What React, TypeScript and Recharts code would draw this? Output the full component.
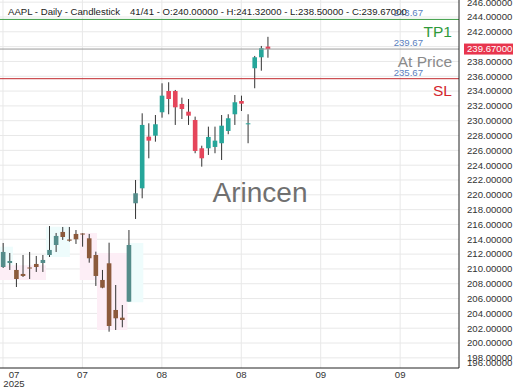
import React from 'react';
import { ComposedChart, Bar, XAxis, YAxis, CartesianGrid, ReferenceLine, ReferenceArea } from 'recharts';

const FONT = '"Liberation Sans", Arial, sans-serif';

// daily candles, oldest first
const opens = [210.26, 210.8, 209.86, 209.32, 210.19, 210.67, 210.8, 211.88, 213.23, 214.99, 213.97, 214.72, 214.78, 214.13, 211.88, 208.51, 210.76, 204.46, 203.42, 205.58, 218.86, 220.88, 227.85, 227.98, 231.14, 234.01, 234.01, 232.26, 231.22, 230.1, 226.28, 226.28, 226.46, 226.96, 228.62, 230.87, 232.66, 229.52, 237.08, 238.56, 240.0];
const highs = [213.5, 212.15, 210.8, 211.88, 212.29, 211.75, 211.88, 215.79, 214.85, 215.66, 215.66, 215.25, 214.81, 214.72, 212.33, 209.86, 213.54, 207.83, 205.13, 215.25, 222.0, 231.0, 229.65, 230.77, 235.05, 235.19, 234.15, 233.11, 232.93, 230.55, 226.63, 229.2, 229.2, 230.77, 230.87, 233.47, 233.38, 230.87, 238.74, 240.09, 241.32];
const lows = [210.13, 209.86, 207.56, 208.91, 208.64, 209.59, 209.59, 211.61, 212.29, 213.91, 213.68, 213.37, 213.0, 210.84, 207.7, 207.39, 201.53, 201.76, 202.12, 205.58, 216.74, 219.53, 224.93, 227.17, 230.41, 230.87, 229.43, 230.23, 229.43, 225.61, 223.8, 225.38, 225.61, 224.7, 228.17, 229.43, 231.31, 226.96, 234.38, 236.75, 238.5];
const closes = [212.29, 211.07, 208.64, 209.05, 210.13, 210.26, 211.21, 212.56, 214.45, 214.31, 213.81, 214.0, 214.64, 211.44, 209.05, 207.47, 202.3, 203.34, 203.11, 213.23, 220.21, 229.43, 227.31, 229.52, 233.38, 232.93, 231.81, 231.58, 230.68, 225.92, 224.93, 227.81, 227.31, 229.33, 230.33, 232.49, 232.3, 229.65, 238.56, 239.78, 239.67];
const fadedCount = 21;

const xTicks = [0, 12, 24, 36, 48, 60];
const xTickLabels = ['07', '07', '08', '08', '09', '09'];
const yearLabel = '2025';
const yTicks = [196, 198, 200, 202, 204, 206, 208, 210, 212, 214, 216, 218, 220, 222, 224, 226, 228, 230, 232, 234, 236, 238, 240, 242, 244, 246];

const levelPrices = [243.67, 239.67, 235.67];
const levelNames = ['TP1', 'At Price', 'SL'];
const levelColors = ['#2f9a3a', '#8a8a8a', '#d3262e'];
const lineColors = ['#3a9b42', '#9a9a9a', '#c0282d'];

// shaded zones behind the older candles: [from index, to index, low, high]
const zoneFrom = [-0.45, -0.45, 6.5, 11.6, 14.2, 18.8];
const zoneTo = [1.5, 6.5, 10.1, 14.2, 18.8, 21.2];
const zoneLow = [210.5, 208.5, 211.6, 208.5, 201.76, 205.5];
const zoneHigh = [213.0, 210.5, 215.7, 214.85, 212.15, 213.5];
const zoneKind = ['up', 'down', 'up', 'down', 'down', 'up'];

const lastClose = closes[closes.length - 1];

const Candle = (props: any) => {
  const { x, y, width, height, payload } = props;
  if (height == null || isNaN(height)) return null;
  const cx = x + width / 2;
  const per = height / (payload.high - payload.low || 1);
  const yOf = (p: number) => y + (payload.high - p) * per;
  const up = payload.close >= payload.open;
  const faded = payload.i < fadedCount;
  const fill = faded ? (up ? '#548c8a' : '#8c5a3c') : up ? '#26a69a' : '#e5465b';
  const top = Math.min(yOf(payload.open), yOf(payload.close));
  const h = Math.max(1, Math.abs(yOf(payload.open) - yOf(payload.close)));
  return (
    <g>
      <line x1={cx} x2={cx} y1={y} y2={y + height} stroke="#333" strokeWidth={1} />
      <rect x={cx - 2.3} y={top} width={4.6} height={h} fill={fill} />
    </g>
  );
};

const DateTick = (props: any) => {
  const { x, y, payload } = props;
  const idx = xTicks.indexOf(payload.value);
  const first = idx === 0;
  const cx = first ? x + 11 : x;
  return (
    <g>
      <text x={cx} y={y + 1.7} textAnchor="middle" fontSize={9.6} fill="#333" fontFamily={FONT}>
        {xTickLabels[idx]}
      </text>
      {first && (
        <text x={cx} y={y + 10.5} textAnchor="middle" fontSize={9.6} fill="#333" fontFamily={FONT}>
          {yearLabel}
        </text>
      )}
    </g>
  );
};

const PriceTick = (props: any) => {
  const { x, y, payload } = props;
  // the last-price tag sits over this label
  if (Math.abs(payload.value - lastClose) < 0.75) return null;
  return (
    <text x={x} y={Math.min(y, 363)} dy="0.35em" textAnchor="start" fontSize={9.6} fill="#333" fontFamily={FONT}>
      {Number(payload.value).toFixed(5)}
    </text>
  );
};

const LevelLabel = (props: any) => {
  const { viewBox, k } = props;
  const right = viewBox.x + viewBox.width;
  const ly = viewBox.y;
  return (
    <g>
      <text x={right - 36} y={ly - 3} textAnchor="end" fontSize={9.6} fill="#5a7fc0" fontFamily={FONT}>
        {levelPrices[k].toFixed(2)}
      </text>
      <text x={right - 7} y={ly + 17.5} textAnchor="end" fontSize={15.5} fill={levelColors[k]} fontFamily={FONT}>
        {levelNames[k]}
      </text>
      {k === 1 && (
        <g>
          <rect x={right + 5} y={ly - 5.5} width={49} height={11} fill="#e8354d" />
          <text x={right + 8} y={ly} dy="0.35em" fontSize={9.6} fill="#fff" fontFamily={FONT}>
            {lastClose.toFixed(5)}
          </text>
        </g>
      )}
    </g>
  );
};

export default function App() {
  const data = opens.map((o, i) => ({
    i,
    range: [lows[i], highs[i]],
    open: o,
    close: closes[i],
    high: highs[i],
    low: lows[i],
  }));
  const gridPrices = yTicks.filter((v) => v > 196);

  return (
    <div style={{ position: 'absolute', left: 0, top: 0, width: 520, height: 390, background: '#fff', fontFamily: FONT }}>
      <ComposedChart width={520} height={390} data={data} margin={{ top: 0, right: 0, bottom: 0, left: 0 }}>
        <CartesianGrid stroke="#e8e8e8" horizontalValues={gridPrices} verticalValues={xTicks} />
        {zoneFrom.map((f, k) => (
          <ReferenceArea
            key={'z' + k}
            x1={f}
            x2={zoneTo[k]}
            y1={zoneLow[k]}
            y2={zoneHigh[k]}
            fill={zoneKind[k] === 'up' ? '#eefcfc' : '#fdeef6'}
            fillOpacity={1}
            stroke="none"
            ifOverflow="visible"
          />
        ))}
        <XAxis
          dataKey="i"
          type="number"
          domain={[-0.45, 68.89]}
          ticks={xTicks}
          interval={0}
          tickLine={false}
          axisLine={{ stroke: '#222' }}
          height={22}
          tick={<DateTick />}
          allowDataOverflow
        />
        <YAxis
          orientation="right"
          type="number"
          domain={[196.63, 246.29]}
          ticks={yTicks}
          interval={0}
          tickLine={false}
          axisLine={{ stroke: '#222' }}
          width={61}
          tick={<PriceTick />}
          allowDataOverflow
        />
        <Bar dataKey="range" barSize={5} shape={Candle} isAnimationActive={false} />
        {levelPrices.map((p, k) => (
          <ReferenceLine
            key={'l' + k}
            y={p}
            stroke={lineColors[k]}
            strokeWidth={1}
            ifOverflow="visible"
            label={(lp: any) => <LevelLabel {...lp} k={k} />}
          />
        ))}
      </ComposedChart>
      <div style={{ position: 'absolute', left: 8, top: 6, fontSize: 9.6, color: '#222', whiteSpace: 'nowrap', lineHeight: '12px' }}>
        AAPL - Daily - Candlestick
      </div>
      <div style={{ position: 'absolute', left: 130, top: 6, fontSize: 9.6, color: '#222', whiteSpace: 'nowrap', lineHeight: '12px' }}>
        {`${opens.length}/${opens.length} - O:${opens[40].toFixed(5)} - H:${highs[40].toFixed(5)} - L:${lows[40].toFixed(5)} - C:${closes[40].toFixed(5)}`}
      </div>
      <div style={{ position: 'absolute', left: 0, top: 178, width: 520, textAlign: 'center', fontSize: 28, lineHeight: '30px', color: '#707070', pointerEvents: 'none' }}>
        Arincen
      </div>
    </div>
  );
}
